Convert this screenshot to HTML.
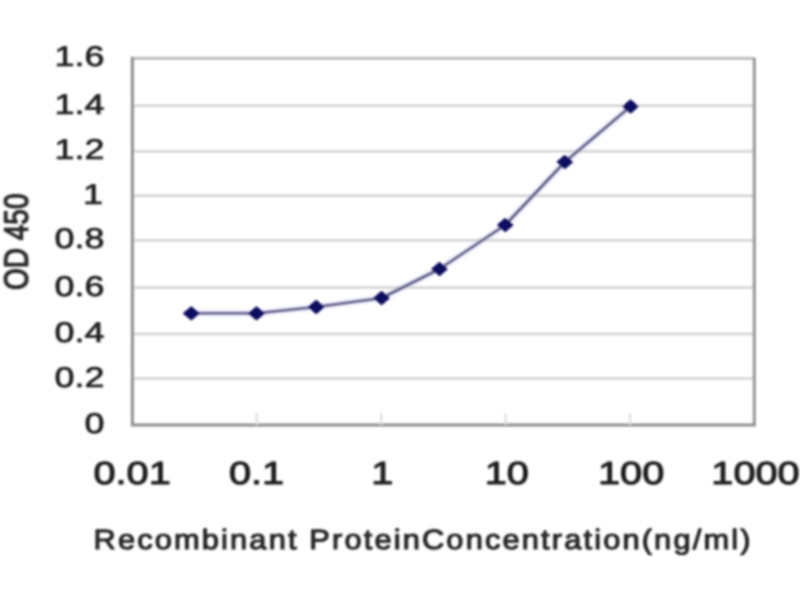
<!DOCTYPE html>
<html><head><meta charset="utf-8">
<style>
html,body{margin:0;padding:0;background:#fff;width:800px;height:600px;overflow:hidden}
svg{display:block}
text{font-family:"Liberation Sans",sans-serif;text-rendering:geometricPrecision}
</style></head><body>
<svg width="800" height="600" viewBox="0 0 800 600">
<defs><filter id="bl" x="-5%" y="-5%" width="110%" height="110%"><feGaussianBlur stdDeviation="1.0"/></filter></defs>
<rect x="0" y="0" width="800" height="600" fill="#fff"/>
<g filter="url(#bl)">
<g stroke="#d2d2d2" stroke-width="2.6" fill="none">
<line x1="133.4" y1="378.5" x2="754.3" y2="378.5"/>
<line x1="133.4" y1="334.0" x2="754.3" y2="334.0"/>
<line x1="133.4" y1="287.5" x2="754.3" y2="287.5"/>
<line x1="133.4" y1="240.3" x2="754.3" y2="240.3"/>
<line x1="133.4" y1="195.8" x2="754.3" y2="195.8"/>
<line x1="133.4" y1="151.3" x2="754.3" y2="151.3"/>
<line x1="133.4" y1="105.8" x2="754.3" y2="105.8"/>
</g>
<g stroke="#b8b8b8" stroke-width="2.8" fill="none"><path d="M132.4 58.3 H754.3"/></g>
<g stroke="#959595" stroke-width="3.0" fill="none"><path d="M754.3 57.8 V425.0"/></g>
<g stroke="#8e8e8e" stroke-width="3.0" fill="none"><path d="M132.4 56.8 V425.0 H755.8"/></g>
<g stroke="#dcdcdc" stroke-width="2">
<line x1="256.8" y1="413" x2="256.8" y2="425"/>
<line x1="381.2" y1="413" x2="381.2" y2="425"/>
<line x1="505.5" y1="413" x2="505.5" y2="425"/>
<line x1="629.9" y1="413" x2="629.9" y2="425"/>
</g>
<polyline fill="none" stroke="#b0b0f0" stroke-opacity="0.25" stroke-width="7" stroke-linejoin="round" points="191.3,313.3 256.5,313.3 316.2,307 381.6,298 439.5,269 505.2,225 564.8,162 630.5,106.5"/>
<polyline fill="none" stroke="#58587c" stroke-width="2.6" stroke-linejoin="round" points="191.3,313.3 256.5,313.3 316.2,307 381.6,298 439.5,269 505.2,225 564.8,162 630.5,106.5"/>
<g fill="#0c0c62" stroke="#0c0c62" stroke-width="2.2" stroke-linejoin="round">
<path d="M191.3 307.5 L198.3 313.3 L191.3 319.1 L184.3 313.3Z"/>
<path d="M256.5 307.5 L263.5 313.3 L256.5 319.1 L249.5 313.3Z"/>
<path d="M316.2 301.2 L323.2 307 L316.2 312.8 L309.2 307Z"/>
<path d="M381.6 292.2 L388.6 298 L381.6 303.8 L374.6 298Z"/>
<path d="M439.5 263.2 L446.5 269 L439.5 274.8 L432.5 269Z"/>
<path d="M505.2 219.2 L512.2 225 L505.2 230.8 L498.2 225Z"/>
<path d="M564.8 156.2 L571.8 162 L564.8 167.8 L557.8 162Z"/>
<path d="M630.5 100.7 L637.5 106.5 L630.5 112.3 L623.5 106.5Z"/>
</g>
<g fill="#1e1e1e" stroke="#1e1e1e" stroke-width="0.7" stroke-linejoin="round" style="font-kerning:none">
<text transform="translate(104.5,433.00) scale(1.26,1)" font-size="28.5" text-anchor="end" vector-effect="non-scaling-stroke">0</text>
<text transform="translate(104.5,386.50) scale(1.26,1)" font-size="28.5" text-anchor="end" vector-effect="non-scaling-stroke">0.2</text>
<text transform="translate(104.5,342.00) scale(1.26,1)" font-size="28.5" text-anchor="end" vector-effect="non-scaling-stroke">0.4</text>
<text transform="translate(104.5,295.50) scale(1.26,1)" font-size="28.5" text-anchor="end" vector-effect="non-scaling-stroke">0.6</text>
<text transform="translate(104.5,248.30) scale(1.26,1)" font-size="28.5" text-anchor="end" vector-effect="non-scaling-stroke">0.8</text>
<text transform="translate(103.0,203.80) scale(1.26,1)" font-size="28.5" text-anchor="end" vector-effect="non-scaling-stroke">1</text>
<text transform="translate(104.5,159.30) scale(1.26,1)" font-size="28.5" text-anchor="end" vector-effect="non-scaling-stroke">1.2</text>
<text transform="translate(104.5,113.80) scale(1.26,1)" font-size="28.5" text-anchor="end" vector-effect="non-scaling-stroke">1.4</text>
<text transform="translate(104.5,66.30) scale(1.26,1)" font-size="28.5" text-anchor="end" vector-effect="non-scaling-stroke">1.6</text>
<text transform="translate(132.10,484) scale(1.24,1)" font-size="32" text-anchor="middle" stroke-width="1.0" vector-effect="non-scaling-stroke">0.01</text>
<text transform="translate(256.48,484) scale(1.24,1)" font-size="32" text-anchor="middle" stroke-width="1.0" vector-effect="non-scaling-stroke">0.1</text>
<text transform="translate(382.36,484) scale(1.24,1)" font-size="32" text-anchor="middle" stroke-width="1.0" vector-effect="non-scaling-stroke">1</text>
<text transform="translate(506.74,484) scale(1.24,1)" font-size="32" text-anchor="middle" stroke-width="1.0" vector-effect="non-scaling-stroke">10</text>
<text transform="translate(631.12,484) scale(1.24,1)" font-size="32" text-anchor="middle" stroke-width="1.0" vector-effect="non-scaling-stroke">100</text>
<text transform="translate(755.50,484) scale(1.24,1)" font-size="32" text-anchor="middle" stroke-width="1.0" vector-effect="non-scaling-stroke">1000</text>
</g>
<g fill="#262626" stroke="#262626" stroke-width="1.1" stroke-linejoin="round" style="font-kerning:none">
<text transform="translate(93.5,549) scale(1.1,1)" font-size="28" letter-spacing="1.955" vector-effect="non-scaling-stroke">Recombinant ProteinConcentration(ng/ml)</text>
<text transform="translate(28,290) rotate(-90) scale(1,1.2)" font-size="28" vector-effect="non-scaling-stroke">OD 450</text>
</g>
</g>
</svg>
</body></html>
